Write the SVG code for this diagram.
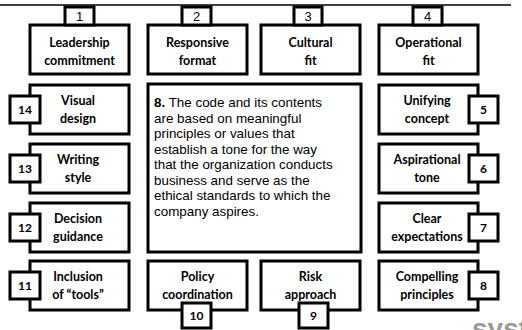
<svg xmlns="http://www.w3.org/2000/svg" width="522" height="330" viewBox="0 0 522 330">
  <style>
    .box { fill: #ffffff; stroke: #000000; stroke-width: 3; }
    .tab { fill: #ffffff; stroke: #000000; stroke-width: 3; }
    .lbl { font-family: Lato, "Open Sans", "Liberation Sans", sans-serif; font-weight: bold; font-size: 12.5px; fill: #000000; text-anchor: middle; }
    .num { font-family: Lato, "Open Sans", "Liberation Sans", sans-serif; font-weight: bold; font-size: 12px; fill: #000000; text-anchor: middle; }
    .numtop { font-family: "Liberation Sans", Arial, sans-serif; font-size: 13px; fill: #000000; text-anchor: middle; }
    .body { font-family: "Liberation Sans", Arial, sans-serif; font-size: 13.4px; fill: #000000; }
    .mark { font-family: "Liberation Sans", Arial, sans-serif; font-weight: bold; font-size: 28px; fill: #9a9a9a; }
  </style>

  <!-- header rule -->
  <line x1="0" y1="5" x2="511" y2="5" stroke="#000000" stroke-width="1.5"/>

  <!-- top row -->
  <g id="node-1">
    <rect class="box" x="30" y="25" width="99" height="49"/>
    <rect class="tab" x="65" y="7" width="29" height="18"/>
    <text class="numtop" x="79.5" y="21">1</text>
    <text class="lbl" x="79.5" y="46.5">Leadership</text>
    <text class="lbl" x="79.5" y="64.5">commitment</text>
  </g>
  <g id="node-2">
    <rect class="box" x="148" y="25" width="99" height="49"/>
    <rect class="tab" x="182" y="7" width="29" height="18"/>
    <text class="numtop" x="196.5" y="21">2</text>
    <text class="lbl" x="197.5" y="46.5">Responsive</text>
    <text class="lbl" x="197.5" y="64.5">format</text>
  </g>
  <g id="node-3">
    <rect class="box" x="261" y="25" width="99" height="49"/>
    <rect class="tab" x="294" y="7" width="28" height="18"/>
    <text class="numtop" x="308" y="21">3</text>
    <text class="lbl" x="310.5" y="46.5">Cultural</text>
    <text class="lbl" x="310.5" y="64.5">fit</text>
  </g>
  <g id="node-4">
    <rect class="box" x="379" y="25" width="99" height="49"/>
    <rect class="tab" x="413" y="7" width="29" height="18"/>
    <text class="numtop" x="427.5" y="21">4</text>
    <text class="lbl" x="428.5" y="46.5">Operational</text>
    <text class="lbl" x="428.5" y="64.5">fit</text>
  </g>

  <!-- right column -->
  <g id="node-5">
    <rect class="box" x="379" y="85" width="99" height="49"/>
    <rect class="tab" x="469" y="96" width="29" height="27"/>
    <text class="num" x="483.5" y="114">5</text>
    <text class="lbl" x="427" y="105">Unifying</text>
    <text class="lbl" x="427" y="123">concept</text>
  </g>
  <g id="node-6">
    <rect class="box" x="379" y="144" width="99" height="49"/>
    <rect class="tab" x="469" y="155" width="29" height="27"/>
    <text class="num" x="483.5" y="173">6</text>
    <text class="lbl" x="427" y="164">Aspirational</text>
    <text class="lbl" x="427" y="182">tone</text>
  </g>
  <g id="node-7">
    <rect class="box" x="379" y="203" width="99" height="49"/>
    <rect class="tab" x="469" y="214" width="29" height="27"/>
    <text class="num" x="483.5" y="232">7</text>
    <text class="lbl" x="427" y="223">Clear</text>
    <text class="lbl" x="427" y="241">expectations</text>
  </g>
  <g id="node-8">
    <rect class="box" x="379" y="261" width="99" height="49"/>
    <rect class="tab" x="469" y="272" width="29" height="27"/>
    <text class="num" x="483.5" y="290">8</text>
    <text class="lbl" x="427" y="281">Compelling</text>
    <text class="lbl" x="427" y="299">principles</text>
  </g>

  <!-- bottom row -->
  <g id="node-9">
    <rect class="box" x="261" y="261" width="99" height="49"/>
    <rect class="tab" x="299" y="303" width="29" height="25"/>
    <text class="num" x="313.5" y="320">9</text>
    <text class="lbl" x="310.5" y="281">Risk</text>
    <text class="lbl" x="310.5" y="299">approach</text>
  </g>
  <g id="node-10">
    <rect class="box" x="148" y="261" width="99" height="49"/>
    <rect class="tab" x="182" y="303" width="29" height="25"/>
    <text class="num" x="196.5" y="320">10</text>
    <text class="lbl" x="197.5" y="281">Policy</text>
    <text class="lbl" x="197.5" y="299">coordination</text>
  </g>

  <!-- left column -->
  <g id="node-11">
    <rect class="box" x="30" y="261" width="99" height="49"/>
    <rect class="tab" x="10" y="272" width="30" height="27"/>
    <text class="num" x="25" y="290">11</text>
    <text class="lbl" x="78" y="281">Inclusion</text>
    <text class="lbl" x="78" y="299">of “tools”</text>
  </g>
  <g id="node-12">
    <rect class="box" x="30" y="203" width="99" height="49"/>
    <rect class="tab" x="10" y="214" width="30" height="27"/>
    <text class="num" x="25" y="232">12</text>
    <text class="lbl" x="78" y="223">Decision</text>
    <text class="lbl" x="78" y="241">guidance</text>
  </g>
  <g id="node-13">
    <rect class="box" x="30" y="144" width="99" height="49"/>
    <rect class="tab" x="10" y="155" width="30" height="27"/>
    <text class="num" x="25" y="173">13</text>
    <text class="lbl" x="78" y="164">Writing</text>
    <text class="lbl" x="78" y="182">style</text>
  </g>
  <g id="node-14">
    <rect class="box" x="30" y="85" width="99" height="49"/>
    <rect class="tab" x="10" y="96" width="30" height="27"/>
    <text class="num" x="25" y="114">14</text>
    <text class="lbl" x="78" y="105">Visual</text>
    <text class="lbl" x="78" y="123">design</text>
  </g>

  <!-- central description panel -->
  <g id="center-text">
    <rect class="box" x="148" y="84" width="213" height="168"/>
    <text class="body" x="154" y="107"><tspan font-weight="bold">8.</tspan> The code and its contents</text>
    <text class="body" x="154" y="122.5">are based on meaningful</text>
    <text class="body" x="154" y="138">principles or values that</text>
    <text class="body" x="154" y="153.5">establish a tone for the way</text>
    <text class="body" x="154" y="169">that the organization conducts</text>
    <text class="body" x="154" y="184.5">business and serve as the</text>
    <text class="body" x="154" y="200">ethical standards to which the</text>
    <text class="body" x="154" y="215.5">company aspires.</text>
  </g>

  <!-- connectors: none drawn -->
  <g id="connectors"></g>

  <!-- corner brand mark, cut by the bottom edge -->
  <text class="mark" x="472" y="338">systr</text>
</svg>
